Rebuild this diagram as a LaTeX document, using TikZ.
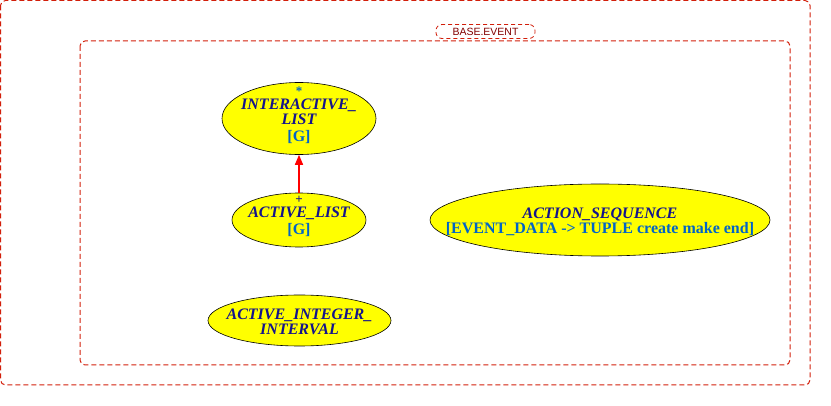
\documentclass[tikz,border=0pt]{standalone}
\usepackage{fontspec}
\setmainfont{Liberation Serif}
\newfontfamily\labelfont{Liberation Sans}
\usetikzlibrary{shapes.geometric,arrows.meta}
\definecolor{framered}{RGB}{210,30,10}
\definecolor{namecol}{RGB}{20,20,140}
\definecolor{tagcol}{RGB}{0,100,200}
\definecolor{titlecol}{RGB}{130,0,0}
\definecolor{fillyel}{RGB}{255,255,0}
\tikzset{
  frame/.style={draw=framered, dash pattern=on 5pt off 3pt, rounded corners=5pt, line width=1pt},
  classnode/.style={ellipse, draw=black, fill=fillyel, line width=0.6pt, inner sep=0pt},
  nameline/.style={anchor=base, inner sep=0pt, text height=11pt, text depth=0pt, text=namecol, font=\fontsize{16}{16}\selectfont\bfseries\itshape},
  tagline/.style={anchor=base, inner sep=0pt, text height=11pt, text depth=2pt, text=tagcol, font=\fontsize{16}{16}\selectfont\bfseries},
  markline/.style={anchor=base, inner sep=0pt, text height=9pt, text depth=0pt, font=\fontsize{13}{13}\selectfont\bfseries},
  inherit/.style={draw=red, line width=1.5pt, -{Triangle[length=10pt,width=8pt]}},
}
\begin{document}
\begin{tikzpicture}[x=1pt,y=-1pt]
\useasboundingbox (0,0) rectangle (831,406);
\draw[frame] (0.5,0.5) rectangle (810,385);
\draw[frame] (80,41) rectangle (790,365);
\node[draw=framered, dash pattern=on 4pt off 3pt, rounded corners=6pt, line width=0.8pt, fill=white, minimum width=99pt, minimum height=14pt, inner sep=0pt, text=titlecol, font=\labelfont\fontsize{10.5}{11}\selectfont] (title) at (485.5,31.5) {BASE.EVENT};

% INTERACTIVE_LIST
\node[classnode, minimum width=154pt, minimum height=72pt] (il) at (299,118.5) {};
\node[markline, text=tagcol] (ilmark) at (299,96) {*};
\node[nameline] (il1) at (299,110) {INTERACTIVE\_};
\node[nameline] (il2) at (299,125) {LIST};
\node[tagline] (il3) at (299,142) {[G]};

% ACTIVE_LIST
\node[classnode, minimum width=134pt, minimum height=54pt] (al) at (299,220) {};
\node[markline, text=namecol] (almark) at (299,203.6) {+};
\node[nameline] (al1) at (299,217.7) {ACTIVE\_LIST};
\node[tagline] (al2) at (299,234.3) {[G]};

% ACTION_SEQUENCE
\node[classnode, minimum width=340pt, minimum height=72pt] (as) at (600,220) {};
\node[nameline] (as1) at (600,218.3) {ACTION\_SEQUENCE};
\node[tagline] (as2) at (600,233.8) {[EVENT\_DATA -> TUPLE create make end]};

% ACTIVE_INTEGER_INTERVAL
\node[classnode, minimum width=183pt, minimum height=51pt] (aii) at (299.5,320.5) {};
\node[nameline] (aii1) at (299.5,319.3) {ACTIVE\_INTEGER\_};
\node[nameline] (aii2) at (299.5,334.3) {INTERVAL};

\draw[inherit] (al.north) -- (il.south);
\end{tikzpicture}
\end{document}
